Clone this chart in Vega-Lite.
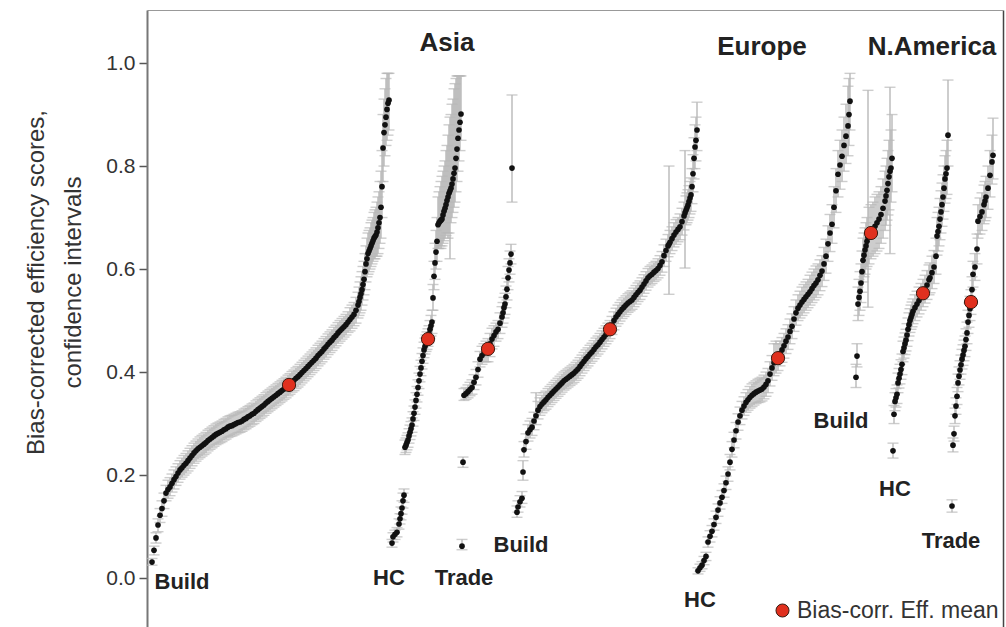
{
"$schema":"https://vega.github.io/schema/vega-lite/v6.json",
"width":856,"height":617,
"autosize":{"type":"none"},
"padding":{"left":147,"top":10,"right":3,"bottom":0},
"background":"white",
"config":{"view":{"stroke":null},"font":"Liberation Sans"},
"datasets":{
"pts":[
{"g":"AB","x":5,"y":0.031,"lo":0.025,"hi":0.038},
{"g":"AB","x":7,"y":0.054,"lo":0.045,"hi":0.062},
{"g":"AB","x":9,"y":0.078,"lo":0.068,"hi":0.088},
{"g":"AB","x":11,"y":0.103,"lo":0.09,"hi":0.115},
{"g":"AB","x":13,"y":0.122,"lo":0.108,"hi":0.135},
{"g":"AB","x":15,"y":0.135,"lo":0.12,"hi":0.15},
{"g":"AB","x":17,"y":0.150,"lo":0.135,"hi":0.165},
{"g":"AB","x":19,"y":0.165,"lo":0.15,"hi":0.18},
{"g":"AB","x":21,"y":0.172,"lo":0.155,"hi":0.19},
{"g":"AB","x":23,"y":0.177,"lo":0.16,"hi":0.195},
{"g":"AB","x":25,"y":0.184,"lo":0.167,"hi":0.202},
{"g":"AB","x":27,"y":0.191,"lo":0.173,"hi":0.21},
{"g":"AB","x":29,"y":0.197,"lo":0.18,"hi":0.216},
{"g":"AB","x":31,"y":0.204,"lo":0.186,"hi":0.222},
{"g":"AB","x":33,"y":0.210,"lo":0.192,"hi":0.228},
{"g":"AB","x":35,"y":0.214,"lo":0.196,"hi":0.233},
{"g":"AB","x":37,"y":0.219,"lo":0.2,"hi":0.238},
{"g":"AB","x":39,"y":0.223,"lo":0.204,"hi":0.242},
{"g":"AB","x":41,"y":0.228,"lo":0.208,"hi":0.247},
{"g":"AB","x":43,"y":0.233,"lo":0.213,"hi":0.252},
{"g":"AB","x":45,"y":0.238,"lo":0.218,"hi":0.257},
{"g":"AB","x":47,"y":0.243,"lo":0.223,"hi":0.262},
{"g":"AB","x":49,"y":0.247,"lo":0.227,"hi":0.266},
{"g":"AB","x":51,"y":0.251,"lo":0.231,"hi":0.27},
{"g":"AB","x":53,"y":0.254,"lo":0.234,"hi":0.274},
{"g":"AB","x":55,"y":0.257,"lo":0.237,"hi":0.277},
{"g":"AB","x":57,"y":0.260,"lo":0.24,"hi":0.28},
{"g":"AB","x":59,"y":0.263,"lo":0.243,"hi":0.283},
{"g":"AB","x":61,"y":0.267,"lo":0.247,"hi":0.287},
{"g":"AB","x":63,"y":0.270,"lo":0.25,"hi":0.29},
{"g":"AB","x":65,"y":0.273,"lo":0.253,"hi":0.293},
{"g":"AB","x":67,"y":0.276,"lo":0.256,"hi":0.296},
{"g":"AB","x":69,"y":0.279,"lo":0.259,"hi":0.299},
{"g":"AB","x":71,"y":0.281,"lo":0.261,"hi":0.301},
{"g":"AB","x":73,"y":0.283,"lo":0.263,"hi":0.303},
{"g":"AB","x":75,"y":0.285,"lo":0.265,"hi":0.305},
{"g":"AB","x":77,"y":0.288,"lo":0.268,"hi":0.308},
{"g":"AB","x":79,"y":0.290,"lo":0.27,"hi":0.31},
{"g":"AB","x":81,"y":0.293,"lo":0.273,"hi":0.313},
{"g":"AB","x":83,"y":0.295,"lo":0.275,"hi":0.315},
{"g":"AB","x":85,"y":0.296,"lo":0.276,"hi":0.316},
{"g":"AB","x":87,"y":0.298,"lo":0.278,"hi":0.318},
{"g":"AB","x":89,"y":0.300,"lo":0.28,"hi":0.32},
{"g":"AB","x":91,"y":0.302,"lo":0.282,"hi":0.322},
{"g":"AB","x":93,"y":0.303,"lo":0.283,"hi":0.323},
{"g":"AB","x":95,"y":0.305,"lo":0.285,"hi":0.325},
{"g":"AB","x":97,"y":0.308,"lo":0.288,"hi":0.328},
{"g":"AB","x":99,"y":0.310,"lo":0.29,"hi":0.33},
{"g":"AB","x":101,"y":0.313,"lo":0.293,"hi":0.333},
{"g":"AB","x":103,"y":0.315,"lo":0.295,"hi":0.335},
{"g":"AB","x":105,"y":0.318,"lo":0.298,"hi":0.338},
{"g":"AB","x":107,"y":0.320,"lo":0.3,"hi":0.34},
{"g":"AB","x":109,"y":0.324,"lo":0.304,"hi":0.344},
{"g":"AB","x":111,"y":0.327,"lo":0.307,"hi":0.347},
{"g":"AB","x":113,"y":0.330,"lo":0.31,"hi":0.35},
{"g":"AB","x":115,"y":0.333,"lo":0.313,"hi":0.353},
{"g":"AB","x":117,"y":0.336,"lo":0.316,"hi":0.356},
{"g":"AB","x":119,"y":0.340,"lo":0.32,"hi":0.36},
{"g":"AB","x":121,"y":0.343,"lo":0.323,"hi":0.363},
{"g":"AB","x":123,"y":0.346,"lo":0.326,"hi":0.366},
{"g":"AB","x":125,"y":0.349,"lo":0.329,"hi":0.369},
{"g":"AB","x":127,"y":0.352,"lo":0.332,"hi":0.372},
{"g":"AB","x":129,"y":0.355,"lo":0.335,"hi":0.375},
{"g":"AB","x":131,"y":0.358,"lo":0.338,"hi":0.378},
{"g":"AB","x":133,"y":0.361,"lo":0.341,"hi":0.381},
{"g":"AB","x":135,"y":0.364,"lo":0.344,"hi":0.384},
{"g":"AB","x":137,"y":0.367,"lo":0.347,"hi":0.387},
{"g":"AB","x":139,"y":0.370,"lo":0.35,"hi":0.39},
{"g":"AB","x":141,"y":0.374,"lo":0.354,"hi":0.394},
{"g":"AB","x":143,"y":0.377,"lo":0.357,"hi":0.397},
{"g":"AB","x":145,"y":0.381,"lo":0.361,"hi":0.401},
{"g":"AB","x":147,"y":0.384,"lo":0.364,"hi":0.404},
{"g":"AB","x":149,"y":0.388,"lo":0.368,"hi":0.408},
{"g":"AB","x":151,"y":0.391,"lo":0.371,"hi":0.411},
{"g":"AB","x":153,"y":0.395,"lo":0.375,"hi":0.415},
{"g":"AB","x":155,"y":0.399,"lo":0.379,"hi":0.419},
{"g":"AB","x":157,"y":0.403,"lo":0.383,"hi":0.423},
{"g":"AB","x":159,"y":0.407,"lo":0.387,"hi":0.427},
{"g":"AB","x":161,"y":0.411,"lo":0.391,"hi":0.431},
{"g":"AB","x":163,"y":0.415,"lo":0.395,"hi":0.435},
{"g":"AB","x":165,"y":0.419,"lo":0.399,"hi":0.439},
{"g":"AB","x":167,"y":0.423,"lo":0.403,"hi":0.443},
{"g":"AB","x":169,"y":0.427,"lo":0.407,"hi":0.447},
{"g":"AB","x":171,"y":0.432,"lo":0.412,"hi":0.452},
{"g":"AB","x":173,"y":0.436,"lo":0.416,"hi":0.456},
{"g":"AB","x":175,"y":0.440,"lo":0.42,"hi":0.46},
{"g":"AB","x":177,"y":0.445,"lo":0.425,"hi":0.465},
{"g":"AB","x":179,"y":0.449,"lo":0.429,"hi":0.469},
{"g":"AB","x":181,"y":0.454,"lo":0.434,"hi":0.474},
{"g":"AB","x":183,"y":0.458,"lo":0.438,"hi":0.478},
{"g":"AB","x":185,"y":0.462,"lo":0.442,"hi":0.482},
{"g":"AB","x":187,"y":0.467,"lo":0.447,"hi":0.487},
{"g":"AB","x":189,"y":0.471,"lo":0.451,"hi":0.491},
{"g":"AB","x":191,"y":0.476,"lo":0.456,"hi":0.496},
{"g":"AB","x":193,"y":0.480,"lo":0.46,"hi":0.50},
{"g":"AB","x":195,"y":0.484,"lo":0.464,"hi":0.504},
{"g":"AB","x":197,"y":0.488,"lo":0.468,"hi":0.508},
{"g":"AB","x":199,"y":0.492,"lo":0.472,"hi":0.512},
{"g":"AB","x":201,"y":0.497,"lo":0.477,"hi":0.517},
{"g":"AB","x":203,"y":0.502,"lo":0.48,"hi":0.525},
{"g":"AB","x":205,"y":0.507,"lo":0.485,"hi":0.53},
{"g":"AB","x":207,"y":0.512,"lo":0.49,"hi":0.535},
{"g":"AB","x":209,"y":0.520,"lo":0.495,"hi":0.545},
{"g":"AB","x":211,"y":0.530,"lo":0.505,"hi":0.555},
{"g":"AB","x":212,"y":0.537,"lo":0.51,"hi":0.565},
{"g":"AB","x":213,"y":0.545,"lo":0.515,"hi":0.575},
{"g":"AB","x":214,"y":0.552,"lo":0.52,"hi":0.585},
{"g":"AB","x":215,"y":0.560,"lo":0.53,"hi":0.595},
{"g":"AB","x":216,"y":0.570,"lo":0.54,"hi":0.605},
{"g":"AB","x":217,"y":0.580,"lo":0.55,"hi":0.615},
{"g":"AB","x":218,"y":0.595,"lo":0.56,"hi":0.63},
{"g":"AB","x":219,"y":0.610,"lo":0.575,"hi":0.645},
{"g":"AB","x":220,"y":0.620,"lo":0.585,"hi":0.66},
{"g":"AB","x":221,"y":0.630,"lo":0.59,"hi":0.67},
{"g":"AB","x":222,"y":0.635,"lo":0.595,"hi":0.675},
{"g":"AB","x":223,"y":0.640,"lo":0.60,"hi":0.68},
{"g":"AB","x":224,"y":0.645,"lo":0.605,"hi":0.69},
{"g":"AB","x":225,"y":0.650,"lo":0.61,"hi":0.695},
{"g":"AB","x":226,"y":0.655,"lo":0.615,"hi":0.70},
{"g":"AB","x":227,"y":0.660,"lo":0.62,"hi":0.71},
{"g":"AB","x":228,"y":0.663,"lo":0.62,"hi":0.715},
{"g":"AB","x":229,"y":0.666,"lo":0.625,"hi":0.72},
{"g":"AB","x":230,"y":0.672,"lo":0.625,"hi":0.73},
{"g":"AB","x":231,"y":0.680,"lo":0.63,"hi":0.74},
{"g":"AB","x":232,"y":0.690,"lo":0.64,"hi":0.75},
{"g":"AB","x":233,"y":0.700,"lo":0.65,"hi":0.77},
{"g":"AB","x":234,"y":0.720,"lo":0.66,"hi":0.79},
{"g":"AB","x":235,"y":0.760,"lo":0.70,"hi":0.83},
{"g":"AB","x":236,"y":0.835,"lo":0.77,"hi":0.90},
{"g":"AB","x":237,"y":0.865,"lo":0.80,"hi":0.93},
{"g":"AB","x":238,"y":0.880,"lo":0.82,"hi":0.95},
{"g":"AB","x":239,"y":0.895,"lo":0.84,"hi":0.97},
{"g":"AB","x":240,"y":0.910,"lo":0.85,"hi":0.98},
{"g":"AB","x":241,"y":0.922,"lo":0.86,"hi":0.98},
{"g":"AB","x":242,"y":0.928,"lo":0.87,"hi":0.98},
{"g":"AH","x":245,"y":0.068,"lo":0.06,"hi":0.075},
{"g":"AH","x":246,"y":0.080,"lo":0.07,"hi":0.088},
{"g":"AH","x":248,"y":0.085,"lo":0.075,"hi":0.093},
{"g":"AH","x":250,"y":0.089,"lo":0.08,"hi":0.098},
{"g":"AH","x":252,"y":0.105,"lo":0.095,"hi":0.115},
{"g":"AH","x":253,"y":0.115,"lo":0.105,"hi":0.125},
{"g":"AH","x":254,"y":0.125,"lo":0.113,"hi":0.138},
{"g":"AH","x":255,"y":0.136,"lo":0.124,"hi":0.15},
{"g":"AH","x":256,"y":0.150,"lo":0.136,"hi":0.165},
{"g":"AH","x":257,"y":0.161,"lo":0.147,"hi":0.173},
{"g":"AH","x":258,"y":0.254,"lo":0.24,"hi":0.268},
{"g":"AH","x":259,"y":0.258,"lo":0.244,"hi":0.272},
{"g":"AH","x":260,"y":0.263,"lo":0.249,"hi":0.277},
{"g":"AH","x":261,"y":0.268,"lo":0.254,"hi":0.282},
{"g":"AH","x":262,"y":0.276,"lo":0.262,"hi":0.29},
{"g":"AH","x":263,"y":0.283,"lo":0.269,"hi":0.297},
{"g":"AH","x":264,"y":0.290,"lo":0.276,"hi":0.304},
{"g":"AH","x":265,"y":0.297,"lo":0.283,"hi":0.311},
{"g":"AH","x":266,"y":0.309,"lo":0.295,"hi":0.323},
{"g":"AH","x":267,"y":0.320,"lo":0.306,"hi":0.334},
{"g":"AH","x":268,"y":0.332,"lo":0.318,"hi":0.346},
{"g":"AH","x":269,"y":0.345,"lo":0.33,"hi":0.36},
{"g":"AH","x":270,"y":0.357,"lo":0.342,"hi":0.372},
{"g":"AH","x":271,"y":0.370,"lo":0.355,"hi":0.385},
{"g":"AH","x":272,"y":0.383,"lo":0.368,"hi":0.398},
{"g":"AH","x":273,"y":0.396,"lo":0.381,"hi":0.411},
{"g":"AH","x":274,"y":0.408,"lo":0.393,"hi":0.423},
{"g":"AH","x":275,"y":0.421,"lo":0.406,"hi":0.436},
{"g":"AH","x":276,"y":0.432,"lo":0.417,"hi":0.447},
{"g":"AH","x":277,"y":0.443,"lo":0.428,"hi":0.458},
{"g":"AH","x":278,"y":0.450,"lo":0.435,"hi":0.466},
{"g":"AH","x":279,"y":0.455,"lo":0.44,"hi":0.472},
{"g":"AH","x":280,"y":0.460,"lo":0.444,"hi":0.478},
{"g":"AH","x":281,"y":0.466,"lo":0.45,"hi":0.484},
{"g":"AH","x":282,"y":0.474,"lo":0.457,"hi":0.49},
{"g":"AH","x":283,"y":0.483,"lo":0.465,"hi":0.50},
{"g":"AH","x":284,"y":0.490,"lo":0.47,"hi":0.51},
{"g":"AH","x":285,"y":0.497,"lo":0.475,"hi":0.52},
{"g":"AH","x":286,"y":0.544,"lo":0.52,"hi":0.57},
{"g":"AH","x":287,"y":0.586,"lo":0.56,"hi":0.615},
{"g":"AH","x":288,"y":0.612,"lo":0.58,"hi":0.65},
{"g":"AH","x":289,"y":0.633,"lo":0.60,"hi":0.675},
{"g":"AH","x":290,"y":0.654,"lo":0.615,"hi":0.70},
{"g":"AH","x":291,"y":0.686,"lo":0.64,"hi":0.74},
{"g":"AH","x":292,"y":0.690,"lo":0.64,"hi":0.75},
{"g":"AH","x":293,"y":0.693,"lo":0.645,"hi":0.76},
{"g":"AH","x":294,"y":0.695,"lo":0.64,"hi":0.77},
{"g":"AH","x":295,"y":0.697,"lo":0.645,"hi":0.78},
{"g":"AH","x":296,"y":0.705,"lo":0.65,"hi":0.79},
{"g":"AH","x":297,"y":0.712,"lo":0.655,"hi":0.80},
{"g":"AH","x":298,"y":0.718,"lo":0.66,"hi":0.81},
{"g":"AH","x":299,"y":0.725,"lo":0.665,"hi":0.83},
{"g":"AH","x":300,"y":0.733,"lo":0.67,"hi":0.84},
{"g":"AH","x":301,"y":0.740,"lo":0.66,"hi":0.86},
{"g":"AH","x":302,"y":0.747,"lo":0.67,"hi":0.88},
{"g":"AH","x":303,"y":0.752,"lo":0.62,"hi":0.895},
{"g":"AH","x":304,"y":0.757,"lo":0.69,"hi":0.90},
{"g":"AH","x":305,"y":0.765,"lo":0.70,"hi":0.92},
{"g":"AH","x":306,"y":0.775,"lo":0.71,"hi":0.93},
{"g":"AH","x":307,"y":0.786,"lo":0.72,"hi":0.95},
{"g":"AH","x":308,"y":0.796,"lo":0.73,"hi":0.96},
{"g":"AH","x":309,"y":0.815,"lo":0.75,"hi":0.97},
{"g":"AH","x":310,"y":0.833,"lo":0.77,"hi":0.975},
{"g":"AH","x":311,"y":0.854,"lo":0.79,"hi":0.975},
{"g":"AH","x":312,"y":0.870,"lo":0.81,"hi":0.975},
{"g":"AH","x":313,"y":0.885,"lo":0.83,"hi":0.975},
{"g":"AH","x":314,"y":0.901,"lo":0.85,"hi":0.975},
{"g":"AT","x":315,"y":0.062,"lo":0.055,"hi":0.075},
{"g":"AT","x":316,"y":0.225,"lo":0.215,"hi":0.235},
{"g":"AT","x":317,"y":0.355,"lo":0.345,"hi":0.368},
{"g":"AT","x":319,"y":0.358,"lo":0.347,"hi":0.37},
{"g":"AT","x":321,"y":0.362,"lo":0.35,"hi":0.375},
{"g":"AT","x":323,"y":0.366,"lo":0.354,"hi":0.38},
{"g":"AT","x":325,"y":0.370,"lo":0.357,"hi":0.385},
{"g":"AT","x":327,"y":0.380,"lo":0.366,"hi":0.395},
{"g":"AT","x":329,"y":0.390,"lo":0.375,"hi":0.405},
{"g":"AT","x":331,"y":0.405,"lo":0.39,"hi":0.42},
{"g":"AT","x":333,"y":0.425,"lo":0.41,"hi":0.44},
{"g":"AT","x":335,"y":0.432,"lo":0.415,"hi":0.45},
{"g":"AT","x":337,"y":0.437,"lo":0.42,"hi":0.455},
{"g":"AT","x":339,"y":0.441,"lo":0.42,"hi":0.46},
{"g":"AT","x":341,"y":0.445,"lo":0.42,"hi":0.465},
{"g":"AT","x":343,"y":0.455,"lo":0.43,"hi":0.475},
{"g":"AT","x":345,"y":0.464,"lo":0.445,"hi":0.485},
{"g":"AT","x":347,"y":0.471,"lo":0.45,"hi":0.49},
{"g":"AT","x":349,"y":0.478,"lo":0.46,"hi":0.495},
{"g":"AT","x":351,"y":0.483,"lo":0.465,"hi":0.50},
{"g":"AT","x":353,"y":0.495,"lo":0.475,"hi":0.515},
{"g":"AT","x":355,"y":0.507,"lo":0.487,"hi":0.527},
{"g":"AT","x":356,"y":0.515,"lo":0.495,"hi":0.535},
{"g":"AT","x":357,"y":0.525,"lo":0.505,"hi":0.545},
{"g":"AT","x":358,"y":0.532,"lo":0.512,"hi":0.553},
{"g":"AT","x":359,"y":0.546,"lo":0.525,"hi":0.567},
{"g":"AT","x":360,"y":0.561,"lo":0.54,"hi":0.582},
{"g":"AT","x":361,"y":0.583,"lo":0.56,"hi":0.605},
{"g":"AT","x":362,"y":0.598,"lo":0.575,"hi":0.62},
{"g":"AT","x":363,"y":0.612,"lo":0.59,"hi":0.635},
{"g":"AT","x":364,"y":0.629,"lo":0.61,"hi":0.648},
{"g":"AT","x":365,"y":0.796,"lo":0.73,"hi":0.938},
{"g":"EB","x":370,"y":0.128,"lo":0.118,"hi":0.14},
{"g":"EB","x":371,"y":0.138,"lo":0.128,"hi":0.15},
{"g":"EB","x":373,"y":0.148,"lo":0.138,"hi":0.16},
{"g":"EB","x":375,"y":0.155,"lo":0.145,"hi":0.168},
{"g":"EB","x":376,"y":0.206,"lo":0.19,"hi":0.228},
{"g":"EB","x":377,"y":0.249,"lo":0.235,"hi":0.265},
{"g":"EB","x":379,"y":0.265,"lo":0.25,"hi":0.28},
{"g":"EB","x":381,"y":0.282,"lo":0.266,"hi":0.298},
{"g":"EB","x":383,"y":0.288,"lo":0.272,"hi":0.305},
{"g":"EB","x":385,"y":0.293,"lo":0.277,"hi":0.31},
{"g":"EB","x":387,"y":0.305,"lo":0.288,"hi":0.322},
{"g":"EB","x":389,"y":0.315,"lo":0.298,"hi":0.36},
{"g":"EB","x":391,"y":0.326,"lo":0.309,"hi":0.343},
{"g":"EB","x":393,"y":0.333,"lo":0.316,"hi":0.35},
{"g":"EB","x":395,"y":0.338,"lo":0.321,"hi":0.355},
{"g":"EB","x":397,"y":0.342,"lo":0.325,"hi":0.36},
{"g":"EB","x":399,"y":0.346,"lo":0.328,"hi":0.363},
{"g":"EB","x":401,"y":0.351,"lo":0.333,"hi":0.368},
{"g":"EB","x":403,"y":0.355,"lo":0.337,"hi":0.372},
{"g":"EB","x":405,"y":0.359,"lo":0.341,"hi":0.376},
{"g":"EB","x":407,"y":0.363,"lo":0.345,"hi":0.38},
{"g":"EB","x":409,"y":0.367,"lo":0.349,"hi":0.384},
{"g":"EB","x":411,"y":0.371,"lo":0.353,"hi":0.388},
{"g":"EB","x":413,"y":0.375,"lo":0.357,"hi":0.392},
{"g":"EB","x":415,"y":0.379,"lo":0.361,"hi":0.396},
{"g":"EB","x":417,"y":0.383,"lo":0.365,"hi":0.40},
{"g":"EB","x":419,"y":0.386,"lo":0.368,"hi":0.403},
{"g":"EB","x":421,"y":0.389,"lo":0.371,"hi":0.406},
{"g":"EB","x":423,"y":0.392,"lo":0.374,"hi":0.409},
{"g":"EB","x":425,"y":0.395,"lo":0.377,"hi":0.412},
{"g":"EB","x":427,"y":0.398,"lo":0.38,"hi":0.415},
{"g":"EB","x":429,"y":0.402,"lo":0.384,"hi":0.419},
{"g":"EB","x":431,"y":0.406,"lo":0.388,"hi":0.423},
{"g":"EB","x":433,"y":0.411,"lo":0.393,"hi":0.428},
{"g":"EB","x":435,"y":0.416,"lo":0.398,"hi":0.433},
{"g":"EB","x":437,"y":0.421,"lo":0.403,"hi":0.438},
{"g":"EB","x":439,"y":0.426,"lo":0.408,"hi":0.443},
{"g":"EB","x":441,"y":0.430,"lo":0.412,"hi":0.447},
{"g":"EB","x":443,"y":0.435,"lo":0.417,"hi":0.452},
{"g":"EB","x":445,"y":0.439,"lo":0.421,"hi":0.456},
{"g":"EB","x":447,"y":0.444,"lo":0.426,"hi":0.461},
{"g":"EB","x":449,"y":0.449,"lo":0.431,"hi":0.466},
{"g":"EB","x":451,"y":0.453,"lo":0.435,"hi":0.47},
{"g":"EB","x":453,"y":0.458,"lo":0.44,"hi":0.475},
{"g":"EB","x":455,"y":0.463,"lo":0.445,"hi":0.48},
{"g":"EB","x":457,"y":0.468,"lo":0.45,"hi":0.485},
{"g":"EB","x":459,"y":0.473,"lo":0.455,"hi":0.49},
{"g":"EB","x":461,"y":0.478,"lo":0.46,"hi":0.495},
{"g":"EB","x":463,"y":0.483,"lo":0.465,"hi":0.50},
{"g":"EB","x":465,"y":0.491,"lo":0.473,"hi":0.508},
{"g":"EB","x":467,"y":0.500,"lo":0.482,"hi":0.517},
{"g":"EB","x":469,"y":0.507,"lo":0.489,"hi":0.524},
{"g":"EB","x":471,"y":0.512,"lo":0.494,"hi":0.53},
{"g":"EB","x":473,"y":0.517,"lo":0.499,"hi":0.535},
{"g":"EB","x":475,"y":0.522,"lo":0.504,"hi":0.54},
{"g":"EB","x":477,"y":0.526,"lo":0.508,"hi":0.544},
{"g":"EB","x":479,"y":0.530,"lo":0.512,"hi":0.548},
{"g":"EB","x":481,"y":0.534,"lo":0.516,"hi":0.552},
{"g":"EB","x":483,"y":0.537,"lo":0.519,"hi":0.555},
{"g":"EB","x":485,"y":0.540,"lo":0.522,"hi":0.558},
{"g":"EB","x":487,"y":0.545,"lo":0.527,"hi":0.563},
{"g":"EB","x":489,"y":0.550,"lo":0.532,"hi":0.568},
{"g":"EB","x":491,"y":0.555,"lo":0.537,"hi":0.573},
{"g":"EB","x":493,"y":0.559,"lo":0.541,"hi":0.577},
{"g":"EB","x":495,"y":0.565,"lo":0.547,"hi":0.583},
{"g":"EB","x":497,"y":0.571,"lo":0.553,"hi":0.589},
{"g":"EB","x":499,"y":0.577,"lo":0.559,"hi":0.595},
{"g":"EB","x":501,"y":0.583,"lo":0.565,"hi":0.601},
{"g":"EB","x":503,"y":0.587,"lo":0.569,"hi":0.605},
{"g":"EB","x":505,"y":0.590,"lo":0.572,"hi":0.608},
{"g":"EB","x":507,"y":0.594,"lo":0.576,"hi":0.612},
{"g":"EB","x":509,"y":0.597,"lo":0.579,"hi":0.615},
{"g":"EB","x":511,"y":0.601,"lo":0.583,"hi":0.62},
{"g":"EB","x":513,"y":0.607,"lo":0.588,"hi":0.626},
{"g":"EB","x":515,"y":0.614,"lo":0.594,"hi":0.634},
{"g":"EB","x":517,"y":0.626,"lo":0.605,"hi":0.647},
{"g":"EB","x":519,"y":0.636,"lo":0.615,"hi":0.658},
{"g":"EB","x":521,"y":0.645,"lo":0.624,"hi":0.667},
{"g":"EB","x":522,"y":0.648,"lo":0.551,"hi":0.80},
{"g":"EB","x":523,"y":0.652,"lo":0.63,"hi":0.675},
{"g":"EB","x":525,"y":0.659,"lo":0.636,"hi":0.682},
{"g":"EB","x":527,"y":0.666,"lo":0.643,"hi":0.69},
{"g":"EB","x":529,"y":0.672,"lo":0.648,"hi":0.696},
{"g":"EB","x":531,"y":0.677,"lo":0.653,"hi":0.70},
{"g":"EB","x":533,"y":0.682,"lo":0.657,"hi":0.707},
{"g":"EB","x":535,"y":0.692,"lo":0.666,"hi":0.718},
{"g":"EB","x":537,"y":0.703,"lo":0.676,"hi":0.73},
{"g":"EB","x":538,"y":0.709,"lo":0.602,"hi":0.83},
{"g":"EB","x":539,"y":0.714,"lo":0.686,"hi":0.742},
{"g":"EB","x":540,"y":0.719,"lo":0.69,"hi":0.748},
{"g":"EB","x":541,"y":0.724,"lo":0.695,"hi":0.754},
{"g":"EB","x":542,"y":0.731,"lo":0.70,"hi":0.762},
{"g":"EB","x":543,"y":0.738,"lo":0.707,"hi":0.77},
{"g":"EB","x":544,"y":0.744,"lo":0.712,"hi":0.777},
{"g":"EB","x":545,"y":0.760,"lo":0.727,"hi":0.795},
{"g":"EB","x":546,"y":0.785,"lo":0.75,"hi":0.822},
{"g":"EB","x":547,"y":0.815,"lo":0.775,"hi":0.855},
{"g":"EB","x":548,"y":0.837,"lo":0.795,"hi":0.88},
{"g":"EB","x":549,"y":0.850,"lo":0.81,"hi":0.895},
{"g":"EB","x":550,"y":0.870,"lo":0.83,"hi":0.924},
{"g":"EH","x":551,"y":0.014,"lo":0.008,"hi":0.02},
{"g":"EH","x":553,"y":0.020,"lo":0.013,"hi":0.027},
{"g":"EH","x":555,"y":0.025,"lo":0.018,"hi":0.032},
{"g":"EH","x":557,"y":0.034,"lo":0.026,"hi":0.042},
{"g":"EH","x":559,"y":0.042,"lo":0.034,"hi":0.05},
{"g":"EH","x":561,"y":0.070,"lo":0.06,"hi":0.08},
{"g":"EH","x":563,"y":0.081,"lo":0.07,"hi":0.092},
{"g":"EH","x":565,"y":0.091,"lo":0.08,"hi":0.102},
{"g":"EH","x":567,"y":0.104,"lo":0.093,"hi":0.115},
{"g":"EH","x":569,"y":0.118,"lo":0.106,"hi":0.13},
{"g":"EH","x":571,"y":0.132,"lo":0.12,"hi":0.144},
{"g":"EH","x":573,"y":0.146,"lo":0.134,"hi":0.158},
{"g":"EH","x":575,"y":0.157,"lo":0.145,"hi":0.17},
{"g":"EH","x":577,"y":0.170,"lo":0.157,"hi":0.183},
{"g":"EH","x":579,"y":0.185,"lo":0.172,"hi":0.198},
{"g":"EH","x":581,"y":0.202,"lo":0.188,"hi":0.216},
{"g":"EH","x":583,"y":0.225,"lo":0.21,"hi":0.24},
{"g":"EH","x":585,"y":0.250,"lo":0.235,"hi":0.265},
{"g":"EH","x":587,"y":0.268,"lo":0.253,"hi":0.283},
{"g":"EH","x":589,"y":0.286,"lo":0.27,"hi":0.302},
{"g":"EH","x":591,"y":0.303,"lo":0.287,"hi":0.319},
{"g":"EH","x":593,"y":0.315,"lo":0.298,"hi":0.332},
{"g":"EH","x":595,"y":0.326,"lo":0.309,"hi":0.343},
{"g":"EH","x":597,"y":0.334,"lo":0.316,"hi":0.352},
{"g":"EH","x":599,"y":0.341,"lo":0.322,"hi":0.36},
{"g":"EH","x":601,"y":0.346,"lo":0.326,"hi":0.366},
{"g":"EH","x":603,"y":0.351,"lo":0.33,"hi":0.372},
{"g":"EH","x":605,"y":0.355,"lo":0.333,"hi":0.377},
{"g":"EH","x":607,"y":0.358,"lo":0.336,"hi":0.38},
{"g":"EH","x":609,"y":0.361,"lo":0.339,"hi":0.383},
{"g":"EH","x":611,"y":0.363,"lo":0.341,"hi":0.386},
{"g":"EH","x":613,"y":0.365,"lo":0.342,"hi":0.388},
{"g":"EH","x":615,"y":0.367,"lo":0.344,"hi":0.39},
{"g":"EH","x":617,"y":0.371,"lo":0.348,"hi":0.394},
{"g":"EH","x":619,"y":0.376,"lo":0.353,"hi":0.40},
{"g":"EH","x":621,"y":0.383,"lo":0.36,"hi":0.407},
{"g":"EH","x":623,"y":0.396,"lo":0.373,"hi":0.42},
{"g":"EH","x":625,"y":0.408,"lo":0.384,"hi":0.432},
{"g":"EH","x":627,"y":0.418,"lo":0.393,"hi":0.455},
{"g":"EH","x":629,"y":0.423,"lo":0.398,"hi":0.46},
{"g":"EH","x":631,"y":0.427,"lo":0.403,"hi":0.455},
{"g":"EH","x":633,"y":0.436,"lo":0.412,"hi":0.46},
{"g":"EH","x":635,"y":0.443,"lo":0.419,"hi":0.467},
{"g":"EH","x":637,"y":0.451,"lo":0.427,"hi":0.475},
{"g":"EH","x":639,"y":0.460,"lo":0.436,"hi":0.484},
{"g":"EH","x":641,"y":0.468,"lo":0.444,"hi":0.492},
{"g":"EH","x":643,"y":0.479,"lo":0.455,"hi":0.503},
{"g":"EH","x":645,"y":0.489,"lo":0.465,"hi":0.513},
{"g":"EH","x":647,"y":0.503,"lo":0.479,"hi":0.527},
{"g":"EH","x":649,"y":0.515,"lo":0.491,"hi":0.54},
{"g":"EH","x":651,"y":0.524,"lo":0.50,"hi":0.55},
{"g":"EH","x":653,"y":0.530,"lo":0.505,"hi":0.557},
{"g":"EH","x":655,"y":0.536,"lo":0.51,"hi":0.565},
{"g":"EH","x":657,"y":0.541,"lo":0.515,"hi":0.57},
{"g":"EH","x":659,"y":0.546,"lo":0.52,"hi":0.575},
{"g":"EH","x":661,"y":0.551,"lo":0.525,"hi":0.58},
{"g":"EH","x":663,"y":0.556,"lo":0.53,"hi":0.588},
{"g":"EH","x":665,"y":0.562,"lo":0.535,"hi":0.594},
{"g":"EH","x":667,"y":0.568,"lo":0.54,"hi":0.60},
{"g":"EH","x":669,"y":0.573,"lo":0.545,"hi":0.606},
{"g":"EH","x":671,"y":0.579,"lo":0.55,"hi":0.61},
{"g":"EH","x":673,"y":0.588,"lo":0.558,"hi":0.618},
{"g":"EH","x":675,"y":0.596,"lo":0.566,"hi":0.626},
{"g":"EH","x":677,"y":0.610,"lo":0.578,"hi":0.642},
{"g":"EH","x":679,"y":0.625,"lo":0.592,"hi":0.658},
{"g":"EH","x":681,"y":0.649,"lo":0.615,"hi":0.684},
{"g":"EH","x":683,"y":0.670,"lo":0.634,"hi":0.706},
{"g":"EH","x":685,"y":0.687,"lo":0.65,"hi":0.725},
{"g":"EH","x":687,"y":0.720,"lo":0.68,"hi":0.76},
{"g":"EH","x":689,"y":0.752,"lo":0.71,"hi":0.795},
{"g":"EH","x":691,"y":0.784,"lo":0.74,"hi":0.83},
{"g":"EH","x":693,"y":0.802,"lo":0.755,"hi":0.85},
{"g":"EH","x":695,"y":0.819,"lo":0.77,"hi":0.87},
{"g":"EH","x":697,"y":0.840,"lo":0.79,"hi":0.895},
{"g":"EH","x":699,"y":0.858,"lo":0.805,"hi":0.92},
{"g":"EH","x":701,"y":0.878,"lo":0.82,"hi":0.955},
{"g":"EH","x":702,"y":0.900,"lo":0.84,"hi":0.97},
{"g":"EH","x":703,"y":0.926,"lo":0.87,"hi":0.98},
{"g":"NB","x":709,"y":0.390,"lo":0.37,"hi":0.415},
{"g":"NB","x":710,"y":0.431,"lo":0.41,"hi":0.455},
{"g":"NB","x":711,"y":0.532,"lo":0.50,"hi":0.565},
{"g":"NB","x":712,"y":0.545,"lo":0.51,"hi":0.58},
{"g":"NB","x":713,"y":0.557,"lo":0.52,"hi":0.595},
{"g":"NB","x":714,"y":0.573,"lo":0.535,"hi":0.61},
{"g":"NB","x":715,"y":0.595,"lo":0.555,"hi":0.635},
{"g":"NB","x":716,"y":0.617,"lo":0.575,"hi":0.66},
{"g":"NB","x":717,"y":0.627,"lo":0.585,"hi":0.67},
{"g":"NB","x":718,"y":0.637,"lo":0.59,"hi":0.68},
{"g":"NB","x":719,"y":0.645,"lo":0.60,"hi":0.69},
{"g":"NB","x":720,"y":0.654,"lo":0.605,"hi":0.70},
{"g":"NB","x":721,"y":0.662,"lo":0.526,"hi":0.947},
{"g":"NB","x":722,"y":0.665,"lo":0.61,"hi":0.72},
{"g":"NB","x":724,"y":0.670,"lo":0.62,"hi":0.725},
{"g":"NB","x":726,"y":0.676,"lo":0.625,"hi":0.73},
{"g":"NB","x":728,"y":0.683,"lo":0.63,"hi":0.74},
{"g":"NB","x":730,"y":0.690,"lo":0.635,"hi":0.745},
{"g":"NB","x":732,"y":0.697,"lo":0.64,"hi":0.75},
{"g":"NB","x":734,"y":0.706,"lo":0.65,"hi":0.76},
{"g":"NB","x":736,"y":0.718,"lo":0.66,"hi":0.775},
{"g":"NB","x":738,"y":0.732,"lo":0.675,"hi":0.79},
{"g":"NB","x":739,"y":0.742,"lo":0.685,"hi":0.80},
{"g":"NB","x":740,"y":0.753,"lo":0.695,"hi":0.815},
{"g":"NB","x":741,"y":0.766,"lo":0.705,"hi":0.83},
{"g":"NB","x":742,"y":0.779,"lo":0.715,"hi":0.85},
{"g":"NB","x":743,"y":0.790,"lo":0.63,"hi":0.953},
{"g":"NB","x":744,"y":0.796,"lo":0.73,"hi":0.87},
{"g":"NB","x":745,"y":0.815,"lo":0.75,"hi":0.90},
{"g":"NH","x":746,"y":0.247,"lo":0.233,"hi":0.262},
{"g":"NH","x":747,"y":0.318,"lo":0.30,"hi":0.335},
{"g":"NH","x":748,"y":0.343,"lo":0.325,"hi":0.36},
{"g":"NH","x":749,"y":0.350,"lo":0.332,"hi":0.368},
{"g":"NH","x":750,"y":0.357,"lo":0.339,"hi":0.375},
{"g":"NH","x":751,"y":0.379,"lo":0.36,"hi":0.398},
{"g":"NH","x":752,"y":0.388,"lo":0.369,"hi":0.407},
{"g":"NH","x":753,"y":0.396,"lo":0.377,"hi":0.415},
{"g":"NH","x":754,"y":0.405,"lo":0.386,"hi":0.424},
{"g":"NH","x":755,"y":0.415,"lo":0.395,"hi":0.435},
{"g":"NH","x":756,"y":0.440,"lo":0.42,"hi":0.46},
{"g":"NH","x":757,"y":0.447,"lo":0.427,"hi":0.468},
{"g":"NH","x":758,"y":0.455,"lo":0.434,"hi":0.476},
{"g":"NH","x":759,"y":0.462,"lo":0.441,"hi":0.483},
{"g":"NH","x":760,"y":0.472,"lo":0.45,"hi":0.494},
{"g":"NH","x":761,"y":0.483,"lo":0.461,"hi":0.505},
{"g":"NH","x":762,"y":0.492,"lo":0.47,"hi":0.515},
{"g":"NH","x":763,"y":0.500,"lo":0.477,"hi":0.523},
{"g":"NH","x":764,"y":0.506,"lo":0.483,"hi":0.53},
{"g":"NH","x":765,"y":0.512,"lo":0.488,"hi":0.536},
{"g":"NH","x":766,"y":0.518,"lo":0.494,"hi":0.542},
{"g":"NH","x":768,"y":0.525,"lo":0.50,"hi":0.55},
{"g":"NH","x":770,"y":0.532,"lo":0.507,"hi":0.557},
{"g":"NH","x":772,"y":0.539,"lo":0.513,"hi":0.565},
{"g":"NH","x":774,"y":0.546,"lo":0.52,"hi":0.572},
{"g":"NH","x":776,"y":0.553,"lo":0.527,"hi":0.58},
{"g":"NH","x":778,"y":0.561,"lo":0.534,"hi":0.588},
{"g":"NH","x":780,"y":0.569,"lo":0.541,"hi":0.597},
{"g":"NH","x":782,"y":0.579,"lo":0.55,"hi":0.608},
{"g":"NH","x":783,"y":0.583,"lo":0.554,"hi":0.612},
{"g":"NH","x":785,"y":0.593,"lo":0.562,"hi":0.625},
{"g":"NH","x":787,"y":0.604,"lo":0.572,"hi":0.636},
{"g":"NH","x":789,"y":0.625,"lo":0.59,"hi":0.66},
{"g":"NH","x":790,"y":0.664,"lo":0.627,"hi":0.70},
{"g":"NH","x":791,"y":0.673,"lo":0.635,"hi":0.71},
{"g":"NH","x":792,"y":0.683,"lo":0.645,"hi":0.72},
{"g":"NH","x":793,"y":0.697,"lo":0.657,"hi":0.737},
{"g":"NH","x":794,"y":0.711,"lo":0.67,"hi":0.752},
{"g":"NH","x":795,"y":0.725,"lo":0.683,"hi":0.767},
{"g":"NH","x":796,"y":0.740,"lo":0.697,"hi":0.783},
{"g":"NH","x":797,"y":0.757,"lo":0.712,"hi":0.80},
{"g":"NH","x":798,"y":0.775,"lo":0.728,"hi":0.82},
{"g":"NH","x":799,"y":0.785,"lo":0.737,"hi":0.83},
{"g":"NH","x":800,"y":0.796,"lo":0.745,"hi":0.85},
{"g":"NH","x":801,"y":0.860,"lo":0.80,"hi":0.967},
{"g":"NT","x":805,"y":0.140,"lo":0.128,"hi":0.152},
{"g":"NT","x":806,"y":0.258,"lo":0.245,"hi":0.272},
{"g":"NT","x":807,"y":0.280,"lo":0.266,"hi":0.295},
{"g":"NT","x":808,"y":0.315,"lo":0.30,"hi":0.33},
{"g":"NT","x":809,"y":0.334,"lo":0.318,"hi":0.35},
{"g":"NT","x":810,"y":0.353,"lo":0.337,"hi":0.37},
{"g":"NT","x":811,"y":0.379,"lo":0.362,"hi":0.396},
{"g":"NT","x":812,"y":0.392,"lo":0.375,"hi":0.41},
{"g":"NT","x":813,"y":0.404,"lo":0.386,"hi":0.422},
{"g":"NT","x":814,"y":0.414,"lo":0.396,"hi":0.433},
{"g":"NT","x":815,"y":0.425,"lo":0.406,"hi":0.444},
{"g":"NT","x":816,"y":0.433,"lo":0.413,"hi":0.453},
{"g":"NT","x":817,"y":0.442,"lo":0.422,"hi":0.462},
{"g":"NT","x":818,"y":0.450,"lo":0.43,"hi":0.47},
{"g":"NT","x":819,"y":0.463,"lo":0.442,"hi":0.484},
{"g":"NT","x":820,"y":0.476,"lo":0.455,"hi":0.497},
{"g":"NT","x":821,"y":0.497,"lo":0.475,"hi":0.52},
{"g":"NT","x":822,"y":0.510,"lo":0.487,"hi":0.534},
{"g":"NT","x":823,"y":0.523,"lo":0.50,"hi":0.547},
{"g":"NT","x":824,"y":0.536,"lo":0.512,"hi":0.56},
{"g":"NT","x":825,"y":0.560,"lo":0.535,"hi":0.585},
{"g":"NT","x":826,"y":0.590,"lo":0.565,"hi":0.615},
{"g":"NT","x":828,"y":0.604,"lo":0.578,"hi":0.63},
{"g":"NT","x":830,"y":0.639,"lo":0.61,"hi":0.668},
{"g":"NT","x":831,"y":0.693,"lo":0.66,"hi":0.725},
{"g":"NT","x":833,"y":0.702,"lo":0.668,"hi":0.738},
{"g":"NT","x":835,"y":0.711,"lo":0.675,"hi":0.748},
{"g":"NT","x":837,"y":0.725,"lo":0.688,"hi":0.763},
{"g":"NT","x":838,"y":0.732,"lo":0.694,"hi":0.77},
{"g":"NT","x":839,"y":0.740,"lo":0.70,"hi":0.78},
{"g":"NT","x":841,"y":0.757,"lo":0.716,"hi":0.80},
{"g":"NT","x":843,"y":0.782,"lo":0.74,"hi":0.83},
{"g":"NT","x":845,"y":0.808,"lo":0.765,"hi":0.86},
{"g":"NT","x":846,"y":0.821,"lo":0.775,"hi":0.893}
],
"means":[
{"g":"Asia Build","x":142,"y":0.375,"s":"Bias-corr. Eff. mean"},
{"g":"Asia HC","x":281,"y":0.464,"s":"Bias-corr. Eff. mean"},
{"g":"Asia Trade","x":341,"y":0.445,"s":"Bias-corr. Eff. mean"},
{"g":"Europe Build","x":463,"y":0.483,"s":"Bias-corr. Eff. mean"},
{"g":"Europe HC","x":631,"y":0.427,"s":"Bias-corr. Eff. mean"},
{"g":"N.America Build","x":724,"y":0.670,"s":"Bias-corr. Eff. mean"},
{"g":"N.America HC","x":776,"y":0.553,"s":"Bias-corr. Eff. mean"},
{"g":"N.America Trade","x":824,"y":0.536,"s":"Bias-corr. Eff. mean"}
],
"labels":[
{"t":"Asia","x":300,"y":1.039,"k":"r"},
{"t":"Europe","x":615,"y":1.031,"k":"r"},
{"t":"N.America","x":785,"y":1.031,"k":"r"},
{"t":"Build","x":35,"y":-0.008,"k":"s"},
{"t":"HC","x":242,"y":0.0,"k":"s"},
{"t":"Trade","x":317,"y":0.0,"k":"s"},
{"t":"Build","x":374,"y":0.064,"k":"s"},
{"t":"HC","x":553,"y":-0.043,"k":"s"},
{"t":"Build","x":694,"y":0.305,"k":"s"},
{"t":"HC","x":748,"y":0.173,"k":"s"},
{"t":"Trade","x":804,"y":0.072,"k":"s"}
]
},
"layer":[
{"data":{"name":"pts"},
 "mark":{"type":"rule","color":"#b8b8b8","strokeWidth":1.4},
 "encoding":{
  "x":{"field":"x","type":"quantitative","scale":{"domain":[0,856],"nice":false,"zero":false},
       "axis":{"orient":"top","domain":true,"domainColor":"#999999","domainWidth":1,"ticks":false,"labels":false,"title":null,"grid":true,"values":[856],"gridColor":"#444444","gridWidth":1.5}},
  "y":{"field":"lo","type":"quantitative","scale":{"domain":[-0.095,1.103],"nice":false,"zero":false},
       "axis":{"title":["Bias-corrected efficiency scores,","confidence intervals"],"titleFontSize":24,"titleFontWeight":"normal","titleColor":"#333333","titleLineHeight":37,"titlePadding":20,"titleY":272,
               "values":[0,0.2,0.4,0.6,0.8,1.0],"format":".1f","labelFontSize":21,"labelColor":"#333333","labelPadding":4,
               "tickSize":8,"tickColor":"#555555","tickWidth":1.5,"domainColor":"#777777","domainWidth":2,"grid":false}},
  "y2":{"field":"hi"}}},
{"data":{"name":"pts"},
 "mark":{"type":"tick","orient":"horizontal","color":"#b8b8b8","size":11,"thickness":1.4},
 "encoding":{"x":{"field":"x","type":"quantitative"},"y":{"field":"lo","type":"quantitative"}}},
{"data":{"name":"pts"},
 "mark":{"type":"tick","orient":"horizontal","color":"#b8b8b8","size":11,"thickness":1.4},
 "encoding":{"x":{"field":"x","type":"quantitative"},"y":{"field":"hi","type":"quantitative"}}},
{"data":{"name":"pts"},
 "mark":{"type":"point","filled":true,"color":"#111111","size":32,"opacity":1},
 "encoding":{"x":{"field":"x","type":"quantitative"},"y":{"field":"y","type":"quantitative"}}},
{"data":{"name":"means"},
 "mark":{"type":"point","filled":true,"size":175,"stroke":"#3a1a10","strokeWidth":1,"opacity":1},
 "encoding":{"x":{"field":"x","type":"quantitative"},"y":{"field":"y","type":"quantitative"},
  "color":{"field":"s","type":"nominal","scale":{"range":["#e0301e"]},
   "legend":{"title":null,"orient":"bottom-right","offset":4,"padding":0,"labelFontSize":23,"labelLimit":0,"labelColor":"#333333","labelOffset":3,"symbolType":"circle","symbolSize":170,"symbolStrokeColor":"#3a1a10","symbolStrokeWidth":1}}}},
{"data":{"name":"labels"},"transform":[{"filter":"datum.k === 'r'"}],
 "mark":{"type":"text","fontWeight":"bold","fontSize":26,"color":"#222222","align":"center","baseline":"middle"},
 "encoding":{"x":{"field":"x","type":"quantitative"},"y":{"field":"y","type":"quantitative"},"text":{"field":"t"}}},
{"data":{"name":"labels"},"transform":[{"filter":"datum.k === 's'"}],
 "mark":{"type":"text","fontWeight":"bold","fontSize":22,"color":"#222222","align":"center","baseline":"middle"},
 "encoding":{"x":{"field":"x","type":"quantitative"},"y":{"field":"y","type":"quantitative"},"text":{"field":"t"}}}
]
}
